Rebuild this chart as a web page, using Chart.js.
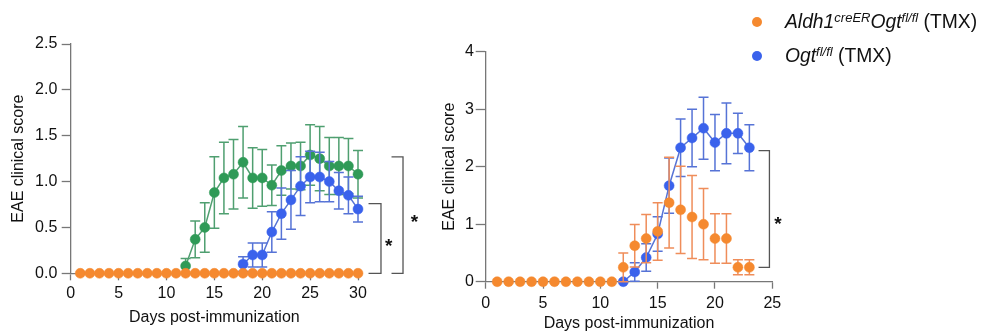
<!DOCTYPE html>
<html>
<head>
<meta charset="utf-8">
<script src="https://cdn.jsdelivr.net/npm/chart.js@4.4.0/dist/chart.umd.min.js"></script>
<style>
  body { margin:0; background:#fff; width:981px; height:332px; overflow:hidden; position:relative; font-family:'Liberation Sans', Arial, sans-serif; }
  canvas { position:absolute; top:0; }
  #left { left:0; }
  #right { left:440px; }
  .lg-dot { position:absolute; width:10px; height:10px; border-radius:50%; }
  .lg-text { position:absolute; font-size:19.3px; line-height:22px; color:#111; white-space:nowrap; }
  .lg-text sup { font-size:13px; vertical-align:baseline; position:relative; top:-0.5em; }
</style>
</head>
<body>
<canvas id="left" width="440" height="332"></canvas>
<canvas id="right" width="541" height="332"></canvas>
<div class="lg-dot" style="left:752px;top:17px;background:#F5892F"></div>
<div class="lg-text" style="left:785px;top:11px"><i>Aldh1</i><sup><i>creER</i></sup><i>Ogt</i><sup><i>fl/fl</i></sup> (TMX)</div>
<div class="lg-dot" style="left:752px;top:51px;background:#3A62EC"></div>
<div class="lg-text" style="left:785px;top:45px"><i>Ogt</i><sup><i>fl/fl</i></sup> (TMX)</div>
<script>
// left panel
const leftDays = [1,2,3,4,5,6,7,8,9,10,11,12,13,14,15,16,17,18,19,20,21,22,23,24,25,26,27,28,29,30];
const leftOrange = [0,0,0,0,0,0,0,0,0,0,0,0,0,0,0,0,0,0,0,0,0,0,0,0,0,0,0,0,0,0];
const leftGreenDays = [12,13,14,15,16,17,18,19,20,21,22,23,24,25,26,27,28,29,30];
const leftGreen = [0.08,0.37,0.50,0.88,1.04,1.08,1.21,1.04,1.04,0.96,1.12,1.17,1.17,1.29,1.25,1.17,1.17,1.17,1.08];
const leftGreenSem = [0.08,0.20,0.27,0.39,0.39,0.38,0.39,0.33,0.31,0.22,0.27,0.25,0.26,0.33,0.35,0.31,0.31,0.30,0.26];
const leftBlueDays = [18,19,20,21,22,23,24,25,26,27,28,29,30];
const leftBlue = [0.10,0.20,0.20,0.45,0.65,0.80,0.95,1.05,1.05,1.00,0.90,0.85,0.70];
const leftBlueSem = [0.08,0.13,0.13,0.22,0.28,0.32,0.32,0.28,0.27,0.22,0.20,0.20,0.14];
const leftYTicks = ['0.0','0.5','1.0','1.5','2.0','2.5'];
const leftXTicks = ['0','5','10','15','20','25','30'];

// right panel
const rightDays = [1,2,3,4,5,6,7,8,9,10,11,12,13,14,15,16,17,18,19,20,21,22,23];
const rightOrange = [0,0,0,0,0,0,0,0,0,0,0,0.25,0.625,0.75,0.875,1.375,1.25,1.125,1.0,0.75,0.75,0.25,0.25];
const rightOrangeSem = [0,0,0,0,0,0,0,0,0,0,0,0.25,0.37,0.42,0.5,0.79,0.76,0.72,0.62,0.43,0.43,0.13,0.13];
const rightBlueDays = [12,13,14,15,16,17,18,19,20,21,22,23];
const rightBlue = [0,0.17,0.42,0.83,1.67,2.33,2.5,2.67,2.42,2.58,2.58,2.33];
const rightBlueSem = [0,0.16,0.24,0.3,0.48,0.5,0.5,0.54,0.49,0.53,0.35,0.4];
const rightYTicks = ['0','1','2','3','4'];
const rightXTicks = ['0','5','10','15','20','25'];

const ORANGE = '#F5892F', ORANGE_BAR = '#EF8D5A';
const BLUE = '#3A62EC', BLUE_BAR = '#5673D6';
const GREEN = '#2F9A57', GREEN_BAR = '#4F9F70';
const AXIS = '#777';

Chart.defaults.font.family = "'Liberation Sans', Arial, sans-serif";
Chart.defaults.font.size = 16;
Chart.defaults.color = '#111';

function pts(xs, ys) { return xs.map((x, i) => ({x: x, y: ys[i]})); }

function series(data, fill, bar, sem, line) {
  return {
    data: data, sem: sem, barColor: bar,
    showLine: line, borderColor: bar, borderWidth: 1.5,
    pointRadius: 5, pointBackgroundColor: fill, pointBorderColor: fill, pointBorderWidth: 0.5,
    clip: false, tension: 0
  };
}

// SEM whiskers, drawn under each dataset
const errorBars = {
  id: 'errorBars',
  beforeDatasetDraw(chart, args) {
    const ds = chart.data.datasets[args.index];
    if (!ds.sem) return;
    const y = chart.scales.y, ctx = chart.ctx;
    ctx.save();
    ctx.strokeStyle = ds.barColor;
    ctx.lineWidth = 1.5;
    args.meta.data.forEach((p, i) => {
      const v = ds.data[i].y, e = ds.sem[i];
      if (!e) return;
      const top = y.getPixelForValue(v + e), bot = y.getPixelForValue(Math.max(0, v - e));
      ctx.beginPath();
      ctx.moveTo(p.x, top); ctx.lineTo(p.x, bot);
      ctx.moveTo(p.x - 5, top); ctx.lineTo(p.x + 5, top);
      ctx.moveTo(p.x - 5, bot); ctx.lineTo(p.x + 5, bot);
      ctx.stroke();
    });
    ctx.restore();
  }
};

// significance brackets
const brackets = {
  id: 'brackets',
  afterDatasetsDraw(chart, args, opts) {
    const x = chart.scales.x, y = chart.scales.y, ctx = chart.ctx;
    ctx.save();
    (opts.items || []).forEach(b => {
      const x0 = x.getPixelForValue(b.x0), x1 = x.getPixelForValue(b.x1);
      const lo = y.getPixelForValue(b.lo), hi = y.getPixelForValue(b.hi);
      ctx.strokeStyle = '#555';
      ctx.lineWidth = 1.3;
      ctx.beginPath();
      ctx.moveTo(x0, hi); ctx.lineTo(x1, hi); ctx.lineTo(x1, lo); ctx.lineTo(x0, lo);
      ctx.stroke();
      ctx.fillStyle = '#111';
      ctx.font = "bold 19px 'Liberation Sans', Arial";
      ctx.textAlign = 'center';
      ctx.textBaseline = 'alphabetic';
      ctx.fillText('*', x.getPixelForValue(b.sx), y.getPixelForValue(b.sy) + 11);
    });
    ctx.restore();
  }
};

function axes(cfg) {
  return {
    x: {
      type: 'linear', min: 0, max: cfg.xMax,
      afterFit: s => { s.height = cfg.xHeight; },
      ticks: { stepSize: 5, autoSkip: false, maxRotation: 0, padding: cfg.xPad, callback: (v, i) => cfg.xTicks[i] },
      grid: { drawOnChartArea: false, tickLength: 7, tickColor: AXIS, tickWidth: 1.3 },
      border: { color: AXIS, width: 1.3 },
      title: { display: true, text: 'Days post-immunization', font: { size: 16, lineHeight: 1 }, padding: { top: 0, bottom: cfg.xTitlePad } }
    },
    y: {
      min: 0, max: cfg.yMax,
      afterFit: s => { s.width = cfg.yWidth; },
      ticks: { stepSize: cfg.yStep, padding: cfg.yPad, callback: (v, i) => cfg.yTicks[i] },
      grid: { drawOnChartArea: false, tickLength: cfg.yTick, tickColor: AXIS, tickWidth: 1.3 },
      border: { color: AXIS, width: 1.3 },
      title: { display: true, text: 'EAE clinical score', font: { size: 16, lineHeight: 1.2 }, padding: { top: cfg.yTitlePad, bottom: 0 } }
    }
  };
}

new Chart(document.getElementById('left'), {
  type: 'line',
  data: {
    datasets: [
      series(pts(leftDays, leftOrange), ORANGE, ORANGE_BAR, null, false),
      series(pts(leftBlueDays, leftBlue), BLUE, BLUE_BAR, leftBlueSem, true),
      series(pts(leftGreenDays, leftGreen), GREEN, GREEN_BAR, leftGreenSem, true)
    ]
  },
  options: {
    responsive: false, animation: false, devicePixelRatio: 1,
    layout: { padding: { left: 0, top: 44, right: 82, bottom: 0 } },
    plugins: {
      legend: { display: false }, tooltip: { enabled: false },
      brackets: { items: [
        { x0: 31.1, x1: 32.4, lo: 0, hi: 0.76, sx: 33.2, sy: 0.35 },
        { x0: 33.5, x1: 34.7, lo: 0, hi: 1.27, sx: 35.9, sy: 0.61 }
      ] }
    },
    scales: axes({ xMax: 30, xHeight: 58.7, xPad: 4, xTitlePad: 6.4, xTicks: leftXTicks,
                   yMax: 2.5, yStep: 0.5, yWidth: 70.7, yPad: 4.4, yTick: 9, yTitlePad: 9.4, yTicks: leftYTicks })
  },
  plugins: [errorBars, brackets]
});

new Chart(document.getElementById('right'), {
  type: 'line',
  data: {
    datasets: [
      series(pts(rightDays, rightOrange), ORANGE, ORANGE_BAR, rightOrangeSem, false),
      series(pts(rightBlueDays, rightBlue), BLUE, BLUE_BAR, rightBlueSem, true)
    ]
  },
  options: {
    responsive: false, animation: false, devicePixelRatio: 1,
    layout: { padding: { left: 0, top: 51.7, right: 208.7, bottom: 0 } },
    plugins: {
      legend: { display: false }, tooltip: { enabled: false },
      brackets: { items: [
        { x0: 23.8, x1: 24.75, lo: 0.25, hi: 2.28, sx: 25.5, sy: 1.09 }
      ] }
    },
    scales: axes({ xMax: 25, xHeight: 50.3, xPad: 5.7, xTitlePad: 0, xTicks: rightXTicks,
                   yMax: 4, yStep: 1, yWidth: 45.7, yPad: 1.7, yTick: 10, yTitlePad: 0, yTicks: rightYTicks })
  },
  plugins: [errorBars, brackets]
});
</script>
</body>
</html>
